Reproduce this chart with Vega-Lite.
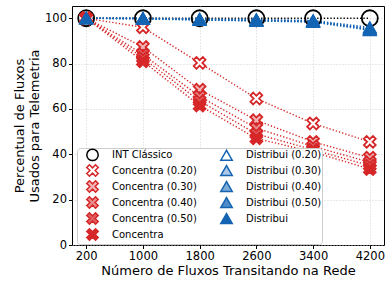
{
"$schema": "https://vega.github.io/schema/vega-lite/v6.json",
"width": 312, "height": 239,
"autosize": {"type": "none"},
"padding": {"left": 72, "top": 6, "right": 2, "bottom": 41},
"config": {
  "font": "DejaVu Sans",
  "view": {"stroke": "#000000", "strokeWidth": 1},
  "axis": {"domain": false, "tickColor": "#000000", "tickSize": 3.5, "tickWidth": 1, "labelColor": "#000000", "labelFontSize": 11.5, "titleFontSize": 13, "titleFontWeight": "normal", "titleColor": "#000000", "gridColor": "#c8c8c8", "gridDash": [1, 2], "gridWidth": 0.8, "labelPadding": 2},
  "legend": {"title": null, "orient": "none", "legendX": 5, "legendY": 142, "columns": 2, "labelFontSize": 10, "labelColor": "#000000", "symbolSize": 130, "symbolStrokeWidth": 1.5, "symbolOffset": 9, "labelOffset": 13, "columnPadding": 14, "rowPadding": -4.5, "padding": 0, "strokeColor": "#cccccc", "fillColor": "#ffffff", "cornerRadius": 3}
},
"data": {"values": [
  {"series": "INT Clássico", "fluxos": 200, "pct": 100},
  {"series": "INT Clássico", "fluxos": 1000, "pct": 100},
  {"series": "INT Clássico", "fluxos": 1800, "pct": 100},
  {"series": "INT Clássico", "fluxos": 2600, "pct": 100},
  {"series": "INT Clássico", "fluxos": 3400, "pct": 100},
  {"series": "INT Clássico", "fluxos": 4200, "pct": 100},
  {"series": "Concentra (0.20)", "fluxos": 200, "pct": 100},
  {"series": "Concentra (0.20)", "fluxos": 1000, "pct": 96},
  {"series": "Concentra (0.20)", "fluxos": 1800, "pct": 80.3},
  {"series": "Concentra (0.20)", "fluxos": 2600, "pct": 64.6},
  {"series": "Concentra (0.20)", "fluxos": 3400, "pct": 53.6},
  {"series": "Concentra (0.20)", "fluxos": 4200, "pct": 45.5},
  {"series": "Concentra (0.30)", "fluxos": 200, "pct": 100},
  {"series": "Concentra (0.30)", "fluxos": 1000, "pct": 87.3},
  {"series": "Concentra (0.30)", "fluxos": 1800, "pct": 68.5},
  {"series": "Concentra (0.30)", "fluxos": 2600, "pct": 55},
  {"series": "Concentra (0.30)", "fluxos": 3400, "pct": 45.5},
  {"series": "Concentra (0.30)", "fluxos": 4200, "pct": 38.5},
  {"series": "Concentra (0.40)", "fluxos": 200, "pct": 100},
  {"series": "Concentra (0.40)", "fluxos": 1000, "pct": 84},
  {"series": "Concentra (0.40)", "fluxos": 1800, "pct": 65.5},
  {"series": "Concentra (0.40)", "fluxos": 2600, "pct": 51.5},
  {"series": "Concentra (0.40)", "fluxos": 3400, "pct": 43.5},
  {"series": "Concentra (0.40)", "fluxos": 4200, "pct": 36.5},
  {"series": "Concentra (0.50)", "fluxos": 200, "pct": 100},
  {"series": "Concentra (0.50)", "fluxos": 1000, "pct": 82.5},
  {"series": "Concentra (0.50)", "fluxos": 1800, "pct": 63.5},
  {"series": "Concentra (0.50)", "fluxos": 2600, "pct": 49},
  {"series": "Concentra (0.50)", "fluxos": 3400, "pct": 42},
  {"series": "Concentra (0.50)", "fluxos": 4200, "pct": 35},
  {"series": "Concentra", "fluxos": 200, "pct": 100},
  {"series": "Concentra", "fluxos": 1000, "pct": 81},
  {"series": "Concentra", "fluxos": 1800, "pct": 61.5},
  {"series": "Concentra", "fluxos": 2600, "pct": 47},
  {"series": "Concentra", "fluxos": 3400, "pct": 41},
  {"series": "Concentra", "fluxos": 4200, "pct": 33.5},
  {"series": "Distribui (0.20)", "fluxos": 200, "pct": 100},
  {"series": "Distribui (0.20)", "fluxos": 1000, "pct": 100},
  {"series": "Distribui (0.20)", "fluxos": 1800, "pct": 99.7},
  {"series": "Distribui (0.20)", "fluxos": 2600, "pct": 99.5},
  {"series": "Distribui (0.20)", "fluxos": 3400, "pct": 99},
  {"series": "Distribui (0.20)", "fluxos": 4200, "pct": 96},
  {"series": "Distribui (0.30)", "fluxos": 200, "pct": 100},
  {"series": "Distribui (0.30)", "fluxos": 1000, "pct": 100},
  {"series": "Distribui (0.30)", "fluxos": 1800, "pct": 99.5},
  {"series": "Distribui (0.30)", "fluxos": 2600, "pct": 99.2},
  {"series": "Distribui (0.30)", "fluxos": 3400, "pct": 98.8},
  {"series": "Distribui (0.30)", "fluxos": 4200, "pct": 95.5},
  {"series": "Distribui (0.40)", "fluxos": 200, "pct": 100},
  {"series": "Distribui (0.40)", "fluxos": 1000, "pct": 99.8},
  {"series": "Distribui (0.40)", "fluxos": 1800, "pct": 99.4},
  {"series": "Distribui (0.40)", "fluxos": 2600, "pct": 99},
  {"series": "Distribui (0.40)", "fluxos": 3400, "pct": 98.6},
  {"series": "Distribui (0.40)", "fluxos": 4200, "pct": 95.2},
  {"series": "Distribui (0.50)", "fluxos": 200, "pct": 100},
  {"series": "Distribui (0.50)", "fluxos": 1000, "pct": 99.8},
  {"series": "Distribui (0.50)", "fluxos": 1800, "pct": 99.3},
  {"series": "Distribui (0.50)", "fluxos": 2600, "pct": 98.9},
  {"series": "Distribui (0.50)", "fluxos": 3400, "pct": 98.5},
  {"series": "Distribui (0.50)", "fluxos": 4200, "pct": 95},
  {"series": "Distribui", "fluxos": 200, "pct": 100},
  {"series": "Distribui", "fluxos": 1000, "pct": 99.7},
  {"series": "Distribui", "fluxos": 1800, "pct": 99.2},
  {"series": "Distribui", "fluxos": 2600, "pct": 98.8},
  {"series": "Distribui", "fluxos": 3400, "pct": 98.3},
  {"series": "Distribui", "fluxos": 4200, "pct": 94.7}
]},
"encoding": {
  "x": {"field": "fluxos", "type": "quantitative", "scale": {"domain": [0, 4400], "nice": false, "zero": false},
        "axis": {"values": [200, 1000, 1800, 2600, 3400, 4200], "format": "d", "title": "Número de Fluxos Transitando na Rede", "titlePadding": 2}},
  "y": {"field": "pct", "type": "quantitative", "scale": {"domain": [0, 105.4], "nice": false},
        "axis": {"values": [0, 20, 40, 60, 80, 100], "title": ["Percentual de Fluxos", "Usados para Telemetria"], "titlePadding": 3}}
},
"layer": [
  {
    "mark": {"type": "line", "strokeDash": [1.3, 2], "strokeWidth": 1.4},
    "encoding": {
      "detail": {"field": "series", "type": "nominal"},
      "stroke": {"field": "series", "type": "nominal",
        "scale": {"domain": ["INT Clássico", "Concentra (0.20)", "Concentra (0.30)", "Concentra (0.40)", "Concentra (0.50)", "Concentra", "Distribui (0.20)", "Distribui (0.30)", "Distribui (0.40)", "Distribui (0.50)", "Distribui"],
                  "range": ["#000000", "#d62728", "#d62728", "#d62728", "#d62728", "#d62728", "#1464b4", "#1464b4", "#1464b4", "#1464b4", "#1464b4"]}}
    }
  },
  {
    "mark": {"type": "point", "strokeWidth": 1.8, "opacity": 1},
    "encoding": {
      "stroke": {"field": "series", "type": "nominal"},
      "fill": {"field": "series", "type": "nominal",
        "scale": {"domain": ["INT Clássico", "Concentra (0.20)", "Concentra (0.30)", "Concentra (0.40)", "Concentra (0.50)", "Concentra", "Distribui (0.20)", "Distribui (0.30)", "Distribui (0.40)", "Distribui (0.50)", "Distribui"],
                  "range": ["transparent", "#ffffff", "#f1b3b4", "#e98889", "#e05d5e", "#d62728", "#ffffff", "#adc9e5", "#7eaad6", "#4f8bc7", "#1464b4"]}},
      "shape": {"field": "series", "type": "nominal",
        "scale": {"domain": ["INT Clássico", "Concentra (0.20)", "Concentra (0.30)", "Concentra (0.40)", "Concentra (0.50)", "Concentra", "Distribui (0.20)", "Distribui (0.30)", "Distribui (0.40)", "Distribui (0.50)", "Distribui"],
                  "range": ["circle", "M-0.54,1L0,0.46L0.54,1L1,0.54L0.46,0L1,-0.54L0.54,-1L0,-0.46L-0.54,-1L-1,-0.54L-0.46,0L-1,0.54Z", "M-0.54,1L0,0.46L0.54,1L1,0.54L0.46,0L1,-0.54L0.54,-1L0,-0.46L-0.54,-1L-1,-0.54L-0.46,0L-1,0.54Z", "M-0.54,1L0,0.46L0.54,1L1,0.54L0.46,0L1,-0.54L0.54,-1L0,-0.46L-0.54,-1L-1,-0.54L-0.46,0L-1,0.54Z", "M-0.54,1L0,0.46L0.54,1L1,0.54L0.46,0L1,-0.54L0.54,-1L0,-0.46L-0.54,-1L-1,-0.54L-0.46,0L-1,0.54Z", "M-0.54,1L0,0.46L0.54,1L1,0.54L0.46,0L1,-0.54L0.54,-1L0,-0.46L-0.54,-1L-1,-0.54L-0.46,0L-1,0.54Z", "triangle-up", "triangle-up", "triangle-up", "triangle-up", "triangle-up"]}},
      "size": {"condition": {"test": "datum.series === 'INT Clássico'", "value": 256}, "value": 140}
    }
  }
]
}
